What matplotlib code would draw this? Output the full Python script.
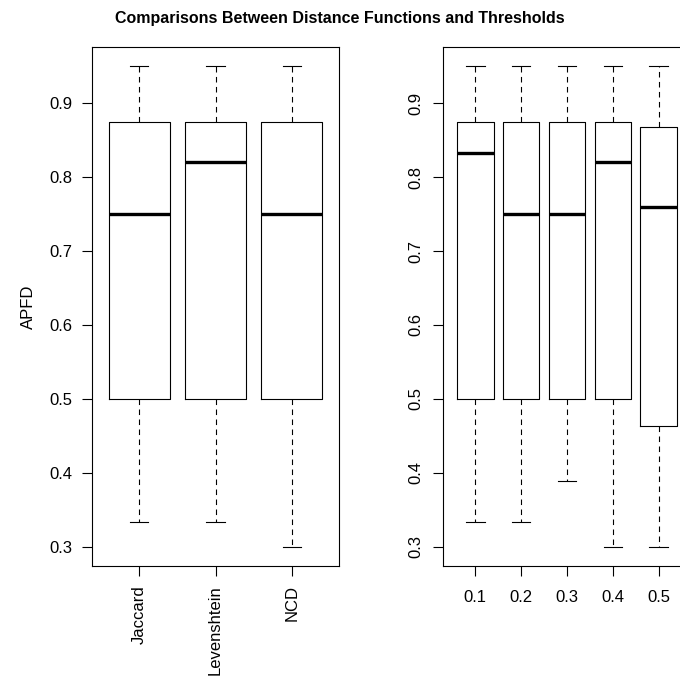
"""Boxplots of APFD by distance function and by threshold."""

import matplotlib

matplotlib.use("Agg")

import matplotlib.pyplot as plt

plt.rcParams["font.family"] = ["Liberation Sans", "DejaVu Sans"]
plt.rcParams["font.size"] = 12

# left panel: distance functions
func_names = ["Jaccard", "Levenshtein", "NCD"]
func_low = [0.333, 0.333, 0.300]
func_q1 = [0.500, 0.500, 0.500]
func_med = [0.750, 0.821, 0.750]
func_q3 = [0.875, 0.875, 0.875]
func_high = [0.950, 0.950, 0.950]

# right panel: thresholds
thr_names = ["0.1", "0.2", "0.3", "0.4", "0.5"]
thr_low = [0.333, 0.333, 0.389, 0.300, 0.300]
thr_q1 = [0.500, 0.500, 0.500, 0.500, 0.463]
thr_med = [0.833, 0.750, 0.750, 0.821, 0.760]
thr_q3 = [0.875, 0.875, 0.875, 0.875, 0.868]
thr_high = [0.950, 0.950, 0.950, 0.950, 0.950]

yticks = [0.3, 0.4, 0.5, 0.6, 0.7, 0.8, 0.9]


def make_stats(names, low, q1, med, q3, high):
    return [
        {"label": n, "whislo": lo, "q1": a, "med": m, "q3": b, "whishi": hi}
        for n, lo, a, m, b, hi in zip(names, low, q1, med, q3, high)
    ]


def draw_panel(ax, stats, capwidth):
    n = len(stats)
    ax.bxp(
        stats,
        positions=range(1, n + 1),
        widths=0.8,
        capwidths=capwidth,
        showfliers=False,
        boxprops={"color": "black", "linewidth": 0.8},
        medianprops={"color": "black", "linewidth": 2.4, "solid_capstyle": "butt"},
        whiskerprops={"color": "black", "linewidth": 0.8, "linestyle": (0, (5, 4))},
        capprops={"color": "black", "linewidth": 0.8},
    )
    pad = 0.04 * n
    ax.set_xlim(0.5 - pad, n + 0.5 + pad)
    ax.set_ylim(0.274, 0.976)
    ax.set_yticks(yticks)
    ax.set_yticklabels([f"{v:.1f}" for v in yticks])
    for spine in ax.spines.values():
        spine.set_linewidth(0.8)
    ax.tick_params(length=7, width=0.8, pad=7, labelsize=12)


fig = plt.figure(figsize=(6.8, 6.77), dpi=100)
ax1 = fig.add_axes([92 / 680, 111 / 677, 247 / 680, 519 / 677])
ax2 = fig.add_axes([443 / 680, 111 / 677, 248 / 680, 519 / 677])

draw_panel(ax1, make_stats(func_names, func_low, func_q1, func_med, func_q3, func_high), 0.24)
draw_panel(ax2, make_stats(thr_names, thr_low, thr_q1, thr_med, thr_q3, thr_high), 0.41)

ax1.set_xticklabels(func_names, rotation=90)
ax1.set_ylabel("APFD", labelpad=10)
ax2.set_xticklabels(thr_names)
ax2.tick_params(axis="x", pad=10)
for lbl in ax2.get_yticklabels():
    lbl.set_rotation(90)
    lbl.set_va("center")

fig.text(340 / 680, 1 - 18 / 677, "Comparisons Between Distance Functions and Thresholds",
         ha="center", va="center", fontsize=11.5, fontweight="bold")

fig.savefig("out.png", dpi=100)
